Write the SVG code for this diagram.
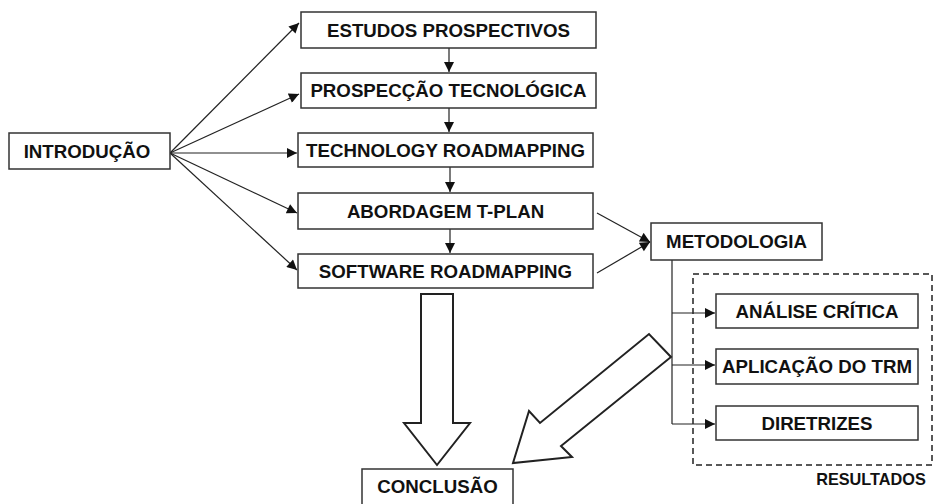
<svg xmlns="http://www.w3.org/2000/svg" width="934" height="504" viewBox="0 0 934 504">
<style>
.box{fill:#fff;stroke:#333;stroke-width:1.5}
.t{font-family:"Liberation Sans",Arial,sans-serif;font-weight:bold;font-size:18.7px;fill:#111;text-anchor:middle}
.c{fill:none;stroke:#222;stroke-width:1.2}
.blk{fill:#fff;stroke:#222;stroke-width:2;stroke-linejoin:miter}
</style>
<defs>
<marker id="ah" viewBox="0 0 10 10" refX="10" refY="5" markerWidth="11" markerHeight="10" markerUnits="userSpaceOnUse" orient="auto">
<path d="M0,0 L10,5 L0,10 z" fill="#111"/>
</marker>
</defs>
<rect width="934" height="504" fill="#fff"/>
<g id="connectors">
<line class="c" x1="170" y1="153" x2="299" y2="23" marker-end="url(#ah)"/>
<line class="c" x1="170" y1="153" x2="299" y2="94" marker-end="url(#ah)"/>
<line class="c" x1="170" y1="153" x2="297" y2="153" marker-end="url(#ah)"/>
<line class="c" x1="170" y1="153" x2="297" y2="213" marker-end="url(#ah)"/>
<line class="c" x1="170" y1="153" x2="297" y2="270" marker-end="url(#ah)"/>
<line class="c" x1="449" y1="48" x2="449" y2="72" marker-end="url(#ah)"/>
<line class="c" x1="449" y1="108" x2="449" y2="132" marker-end="url(#ah)"/>
<line class="c" x1="450" y1="167" x2="450" y2="192" marker-end="url(#ah)"/>
<line class="c" x1="450" y1="229" x2="450" y2="253" marker-end="url(#ah)"/>
<line class="c" x1="597" y1="213" x2="650" y2="242" marker-end="url(#ah)"/>
<line class="c" x1="597" y1="273" x2="650" y2="242" marker-end="url(#ah)"/>
<polyline class="c" points="672,260 672,424"/>
<line class="c" x1="672" y1="313" x2="715" y2="313" marker-end="url(#ah)"/>
<line class="c" x1="672" y1="365" x2="715" y2="365" marker-end="url(#ah)"/>
<line class="c" x1="672" y1="424" x2="715" y2="424" marker-end="url(#ah)"/>
<polygon class="blk" points="421,294 453,294 453,423 470,423 437,465 404,423 421,423"/>
<polygon class="blk" points="513,463 529,411 540,423 649,334 671,357 561,446 572,457"/>
</g>
<g id="resultados">
<rect x="693" y="274" width="239" height="191" fill="none" stroke="#222" stroke-width="1.5" stroke-dasharray="6,4"/>
<text class="t" x="871" y="485" style="font-size:16.3px">RESULTADOS</text>
</g>
<g id="introducao"><rect class="box" x="9" y="133" width="161" height="36"/><text class="t" x="87" y="157.5">INTRODUÇÃO</text></g>
<g id="estudos"><rect class="box" x="301" y="12" width="295" height="36"/><text class="t" x="448.5" y="36.5">ESTUDOS PROSPECTIVOS</text></g>
<g id="prospeccao"><rect class="box" x="301" y="73" width="295" height="35"/><text class="t" x="448.5" y="97">PROSPECÇÃO TECNOLÓGICA</text></g>
<g id="technology"><rect class="box" x="298" y="133" width="295" height="34"/><text class="t" x="445.5" y="156.5">TECHNOLOGY ROADMAPPING</text></g>
<g id="abordagem"><rect class="box" x="298" y="193" width="295" height="36"/><text class="t" x="445.5" y="217.5">ABORDAGEM T-PLAN</text></g>
<g id="software"><rect class="box" x="298" y="254" width="295" height="34"/><text class="t" x="445.5" y="277.5">SOFTWARE ROADMAPPING</text></g>
<g id="metodologia"><rect class="box" x="651" y="223" width="171" height="37"/><text class="t" x="736.5" y="248">METODOLOGIA</text></g>
<g id="analise"><rect class="box" x="716" y="294" width="202" height="34"/><text class="t" x="817" y="317.5">ANÁLISE CRÍTICA</text></g>
<g id="aplicacao"><rect class="box" x="716" y="349" width="202" height="35"/><text class="t" x="817" y="373">APLICAÇÃO DO TRM</text></g>
<g id="diretrizes"><rect class="box" x="716" y="406" width="202" height="34"/><text class="t" x="817" y="429.5">DIRETRIZES</text></g>
<g id="conclusao"><rect class="box" x="362" y="469" width="151" height="45"/><text class="t" x="437.5" y="493">CONCLUSÃO</text></g>
</svg>
